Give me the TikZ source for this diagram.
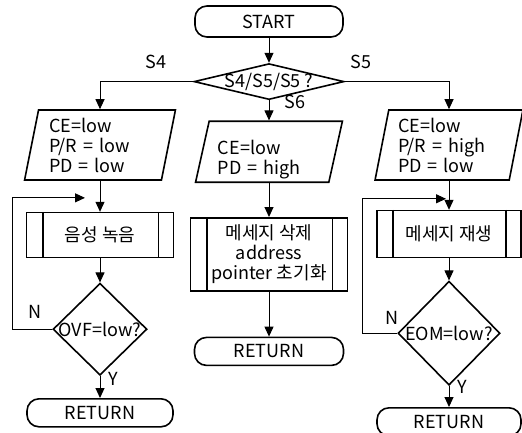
\documentclass[tikz,border=0pt]{standalone}
\usepackage{fontspec}
\setmainfont{Noto Sans CJK KR}
\usetikzlibrary{arrows.meta, positioning, shapes.geometric}
\tikzset{
  base/.style={draw, line width=1.6pt, font=\fontsize{18}{20}\selectfont},
  term/.style={base, rounded corners=12pt, inner sep=0pt},
  io/.style={base, trapezium, trapezium left angle=78, trapezium right angle=102,
             trapezium stretches=true, text width=102pt, align=left, inner sep=0pt},
  proc/.style={base, align=center, inner sep=0pt},
  decide/.style={base, diamond, inner sep=0pt},
  lbl/.style={font=\fontsize{18}{20}\selectfont, inner sep=0pt},
  flow/.style={-{Triangle[length=10pt, width=9pt]}, line width=1pt},
}
\begin{document}
\begin{tikzpicture}[x=1pt, y=1pt]
  \useasboundingbox (0,0) rectangle (522,432);
  \node (start) [term, minimum width=148pt, minimum height=31pt] at (269,410.5) {START};
  \node (sel) [decide, minimum width=150pt, minimum height=36pt, below=25pt of start] {\makebox[0pt]{S4/S5/S5 ?}};
  \node (inC) [io, minimum width=147pt, minimum height=61pt, below=20pt of sel] {\rule{0pt}{30pt}CE=low\\PD = high};
  \node (inL) [io, minimum width=151pt, minimum height=70pt] at (100,287) {CE=low\\P/R = low\\PD = low};
  \node (inR) [io, minimum width=148pt, minimum height=70pt] at (449,287) {CE=low\\P/R = high\\PD = low};
  \node (rec) [proc, minimum width=147pt, minimum height=45pt, below=31pt of inL] {음성 녹음};
  \node (ovf) [decide, minimum width=94pt, minimum height=92pt, below=24pt of rec] {\makebox[0pt]{OVF=low?}};
  \node (retL) [term, minimum width=146pt, minimum height=28pt, below=22pt of ovf] {RETURN};
  \node (del) [proc, minimum width=157pt, minimum height=73pt, below=34pt of inC] {메세지 삭제\\address\\pointer 초기화};
  \node (retC) [term, minimum width=149pt, minimum height=28pt, below=45pt of del] {RETURN};
  \node (play) [proc, minimum width=144pt, minimum height=47pt, below=29pt of inR] {메세지 재생};
  \node (eom) [decide, minimum width=102pt, minimum height=104pt, below=22pt of play] {\makebox[0pt]{EOM=low?}};
  \node (retR) [term, minimum width=144pt, minimum height=28pt, below=21pt of eom] {RETURN};
  \foreach \n in {rec, del, play}
    \draw[line width=1.6pt] ([xshift=17pt]\n.north west) -- ([xshift=17pt]\n.south west)
      ([xshift=-16pt]\n.north east) -- ([xshift=-16pt]\n.south east);
  \path (inL.south) -- coordinate[pos=0.55] (jL) (rec.north);
  \path (inR.south) -- coordinate[pos=0.62] (jR) (play.north);
  \draw[flow] (start.south) -- (sel.north);
  \draw[flow] (sel.west) -| node[lbl, pos=0.2, above=12pt]{S4} (inL.north);
  \draw[flow] (sel.east) -| node[lbl, pos=0.076, above=12pt]{S5} (inR.north);
  \draw[flow] (sel.south) -- node[lbl, pos=0.1, right=15pt]{S6} (inC.north);
  \draw[flow] (inL.south) -- (rec.north);
  \draw[flow] (rec.south) -- (ovf.north);
  \draw[flow] (ovf.south) -- node[lbl, pos=0.14, right=8pt]{Y} (retL.north);
  \draw[flow] (ovf.west) -- node[lbl, pos=0.43, above=10pt]{N} ++(-40pt,0) |- ([xshift=-15pt]jL);
  \draw[flow] (inC.south) -- (del.north);
  \draw[flow] (del.south) -- (retC.north);
  \draw[flow] (inR.south) -- (play.north);
  \draw[flow] (play.south) -- (eom.north);
  \draw[flow] (eom.south) -- node[lbl, pos=0.05, right=8pt]{Y} (retR.north);
  \draw[flow] (eom.west) -- node[lbl, pos=0.14, above=8pt]{N} ++(-35pt,0) |- ([xshift=-3pt]jR);
\end{tikzpicture}
\end{document}
